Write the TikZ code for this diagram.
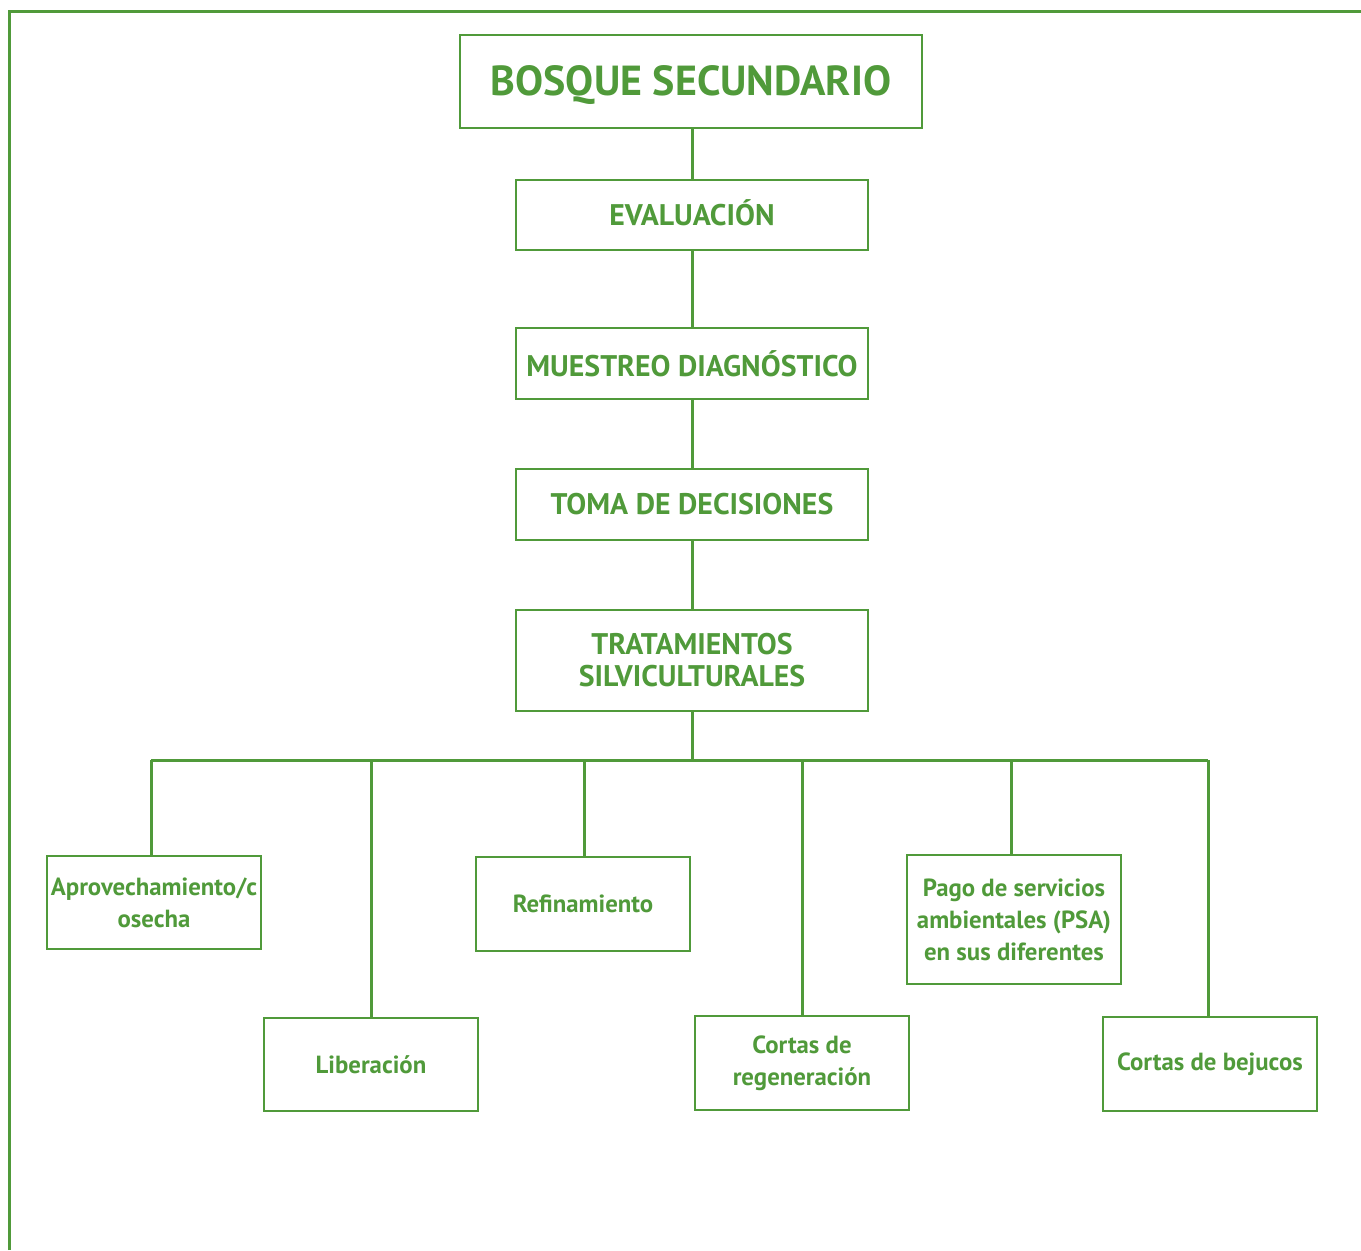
\documentclass[tikz,border=0pt]{standalone}
\usepackage{fontspec}
\setmainfont{PT Sans}
\definecolor{fgreen}{RGB}{80,154,58}
\begin{document}
\begin{tikzpicture}[x=0.5pt,y=-0.5pt,
  box/.style={draw=fgreen, line width=0.7pt, text=fgreen, align=center, inner sep=0pt,
    font=\bfseries\fontsize{14.9pt}{16pt}\selectfont},
  lbox/.style={box, font=\bfseries\fontsize{12.4pt}{16pt}\selectfont},
  sz/.style 2 args={minimum width={#1*0.5pt}, minimum height={#2*0.5pt}},
  conn/.style={draw=fgreen, line width=1.5pt}]
\useasboundingbox (0,0) rectangle (1361,1250);
\draw[conn] (9.5,1250) -- (9.5,11.5) -- (1361,11.5);
\node[box, sz={462}{93}, line width=1.3pt, font=\bfseries\fontsize{21pt}{22pt}\selectfont] (top) at (691,81.5) {\raisebox{-2pt}[\height][\depth]{BOSQUE SECUNDARIO}};
\node[box, sz={352}{70}] (eval) at (692,215) {\raisebox{1pt}[\height][\depth]{EVALUACIÓN}};
\node[box, sz={352}{71}] (muest) at (692,363.5) {MUESTREO DIAGNÓSTICO};
\node[box, sz={352}{71}] (toma) at (692,504.5) {TOMA DE DECISIONES};
\node[box, sz={352}{101}] (trat) at (692,660.5) {TRATAMIENTOS\\SILVICULTURALES};
\node[lbox, sz={214}{93}] (aprov) at (154,902.5) {Aprovechamiento/c\\osecha};
\node[lbox, sz={214}{93}] (lib) at (371,1064.5) {Liberación};
\node[lbox, sz={214}{94}] (ref) at (583,904) {Refinamiento};
\node[lbox, sz={214}{94}] (cort) at (802,1063) {Cortas de\\regeneración};
\node[lbox, sz={214}{129}] (pago) at (1014,919.5) {Pago de servicios\\ambientales (PSA)\\en sus diferentes};
\node[lbox, sz={214}{94}] (bej) at (1210,1064) {Cortas de bejucos};
\draw[conn] (eval.north) -- (eval.north |- top.south);
\draw[conn] (eval.south) -- (muest.north);
\draw[conn] (muest.south) -- (toma.north);
\draw[conn] (toma.south) -- (trat.north);
\coordinate (bus) at (692,760);
\coordinate (b1) at (151,760);
\coordinate (b2) at (371,760);
\coordinate (b3) at (584,760);
\coordinate (b4) at (802,760);
\coordinate (b5) at (1011,760);
\coordinate (b6) at (1208,760);
\draw[conn] (trat.south) -- (bus);
\draw[conn] (b1) -- (b6);
\draw[conn] (b1) -- (b1 |- aprov.north);
\draw[conn] (b2) -- (b2 |- lib.north);
\draw[conn] (b3) -- (b3 |- ref.north);
\draw[conn] (b4) -- (b4 |- cort.north);
\draw[conn] (b5) -- (b5 |- pago.north);
\draw[conn] (b6) -- (b6 |- bej.north);
\end{tikzpicture}
\end{document}
